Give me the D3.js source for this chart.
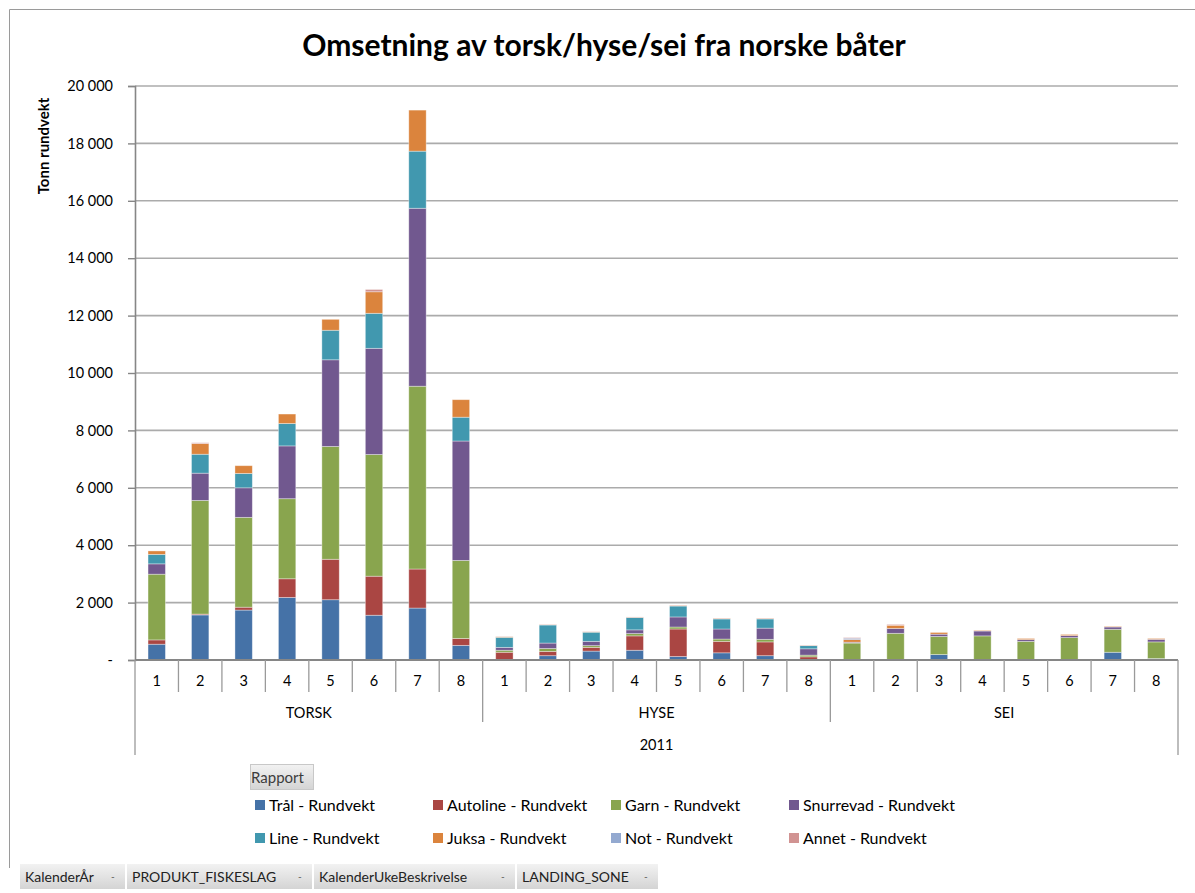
<!DOCTYPE html>
<html>
<head>
<meta charset="utf-8">
<script src="https://cdn.jsdelivr.net/npm/d3@7"></script>
<style>
  html, body { margin: 0; padding: 0; background: #fff; }
  svg { display: block; font-family: Lato, "Open Sans", sans-serif; }
</style>
</head>
<body>
<svg id="chart" width="1195" height="893"></svg>
<script>
// ---- data ----
const year = "2011";
const groups = ["TORSK", "HYSE", "SEI"];
const weeks = ["1", "2", "3", "4", "5", "6", "7", "8"];
const seriesNames = ["Trål - Rundvekt", "Autoline - Rundvekt", "Garn - Rundvekt", "Snurrevad - Rundvekt",
                     "Line - Rundvekt", "Juksa - Rundvekt", "Not - Rundvekt", "Annet - Rundvekt"];
const seriesColors = ["#4572A7", "#AA4643", "#89A54E", "#71588F", "#4198AF", "#DB843D", "#93A9D0", "#D19392"];
// values: TORSK 1-8, HYSE 1-8, SEI 1-8 (tonn)
const tral      = [550,1570,1740,2180,2100,1560,1810,510,   20,150,310,340,120,250,150,20,   0,0,190,0,0,0,270,50];
const autoline  = [150,30,100,650,1410,1360,1360,240,       250,150,130,500,960,400,480,90,  0,0,0,0,0,0,0,0];
const garn      = [2290,3960,3130,2790,3930,4240,6370,2720, 70,100,60,80,70,80,90,60,        590,930,630,840,650,780,800,580];
const snurrevad = [360,950,1030,1840,3020,3700,6200,4160,   100,190,150,130,350,350,390,220, 30,170,80,170,60,70,80,90];
const line      = [330,660,500,780,1030,1220,1990,830,      350,630,320,430,380,350,320,110, 0,0,0,0,0,0,0,0];
const juksa     = [120,370,270,330,380,750,1430,610,        20,10,10,10,20,20,20,10,         90,110,60,20,40,40,20,30];
const not       = [0,0,0,0,0,0,0,0,                         0,0,0,0,0,0,0,0,                 50,0,0,0,0,0,0,0];
const annet     = [0,30,0,0,0,80,0,0,                       10,10,10,10,10,10,10,10,         20,30,0,0,0,0,0,0];
const seriesValues = [tral, autoline, garn, snurrevad, line, juksa, not, annet];
const yTicks = [0, 2000, 4000, 6000, 8000, 10000, 12000, 14000, 16000, 18000, 20000];
const yTickLabels = ["-", "2 000", "4 000", "6 000", "8 000", "10 000", "12 000", "14 000", "16 000", "18 000", "20 000"];
const title = "Omsetning av torsk/hyse/sei fra norske båter";
const yTitle = "Tonn rundvekt";
const filterButtons = ["KalenderÅr", "PRODUKT_FISKESLAG", "KalenderUkeBeskrivelse", "LANDING_SONE"];
const reportButton = "Rapport";

// ---- layout ----
const svg = d3.select("#chart");
const L = 135, R = 1178, T = 86, B = 660;

const cats = [];
groups.forEach(g => weeks.forEach(w => cats.push(g + "|" + w)));
const rows = cats.map((c, i) => {
  const o = { key: c };
  seriesNames.forEach((s, j) => o[s] = seriesValues[j][i]);
  return o;
});

const x = d3.scaleBand().domain(cats).range([L, R]).paddingInner(0.6).paddingOuter(0.3);
const y = d3.scaleLinear().domain([0, 20000]).range([B, T]);
const color = d3.scaleOrdinal().domain(seriesNames).range(seriesColors);

// outer frame
svg.append("path").attr("d", `M9.5,868 V9.5 H1195`).attr("fill", "none").attr("stroke", "#9a9a9a").attr("stroke-width", 1);

// title
svg.append("text").attr("x", 604).attr("y", 56).attr("text-anchor", "middle")
  .attr("font-size", 30).attr("font-weight", "bold").attr("fill", "#000").text(title);

// gridlines
svg.append("g").selectAll("line").data(yTicks.filter(d => d > 0)).join("line")
  .attr("x1", L).attr("x2", R).attr("y1", d => y(d)).attr("y2", d => y(d))
  .attr("stroke", "#ababab").attr("stroke-width", 1.6);

// y axis
const yAxis = d3.axisLeft(y).tickValues(yTicks).tickSize(7).tickPadding(15)
  .tickFormat((d, i) => yTickLabels[i]);
const gy = svg.append("g").attr("transform", `translate(${L},0)`).call(yAxis);
gy.select(".domain").attr("stroke", "#868686").attr("stroke-width", 1.6);
gy.selectAll(".tick line").attr("stroke", "#868686").attr("stroke-width", 1.4);
gy.selectAll(".tick text").attr("font-size", 14.5).attr("fill", "#000").attr("font-family", "Lato, sans-serif");

svg.append("text").attr("transform", `translate(49,146) rotate(-90)`).attr("text-anchor", "middle")
  .attr("font-size", 15).attr("font-weight", "bold").text(yTitle);

// bars
const stack = d3.stack().keys(seriesNames);
const stacked = stack(rows);
svg.append("g").selectAll("g").data(stacked).join("g")
  .attr("fill", d => color(d.key))
  .selectAll("rect").data(d => d.filter(p => p[1] - p[0] > 0)).join("rect")
  .attr("x", d => x(d.data.key))
  .attr("width", x.bandwidth())
  .attr("y", d => y(d[1]))
  .attr("height", d => y(d[0]) - y(d[1]))
  .attr("stroke", "rgba(255,255,255,0.45)").attr("stroke-width", 0.8);

// x axis (multi-level)
const step = x.step();
const gx = svg.append("g");
gx.append("line").attr("x1", L).attr("x2", R).attr("y1", B).attr("y2", B)
  .attr("stroke", "#868686").attr("stroke-width", 2);
for (let i = 0; i <= cats.length; i++) {
  const xx = L + i * step;
  let y2 = 692;
  if (i % weeks.length === 0) y2 = 722;
  if (i === 0 || i === cats.length) y2 = 755;
  gx.append("line").attr("x1", xx).attr("x2", xx).attr("y1", B).attr("y2", y2)
    .attr("stroke", "#9a9a9a").attr("stroke-width", 1.3);
}
gx.selectAll("text.week").data(cats).join("text").attr("class", "week")
  .attr("x", d => x(d) + x.bandwidth() / 2).attr("y", 686)
  .attr("text-anchor", "middle").attr("font-size", 14.5).text(d => d.split("|")[1]);
gx.selectAll("text.grp").data(groups).join("text").attr("class", "grp")
  .attr("x", (d, i) => L + (i + 0.5) * weeks.length * step).attr("y", 718)
  .attr("text-anchor", "middle").attr("font-size", 14.5).text(d => d);
gx.append("text").attr("x", (L + R) / 2).attr("y", 750).attr("text-anchor", "middle")
  .attr("font-size", 14.5).text(year);

// defs for button gradients
const defs = svg.append("defs");
const grad = defs.append("linearGradient").attr("id", "btn").attr("x1", 0).attr("x2", 0).attr("y1", 0).attr("y2", 1);
grad.append("stop").attr("offset", "0%").attr("stop-color", "#f2f2f2");
grad.append("stop").attr("offset", "100%").attr("stop-color", "#d4d4d4");

// Rapport button
svg.append("rect").attr("x", 250.5).attr("y", 764.5).attr("width", 63).attr("height", 25)
  .attr("fill", "url(#btn)").attr("stroke", "#c8c8c8");
svg.append("text").attr("x", 251).attr("y", 783).attr("font-size", 15).attr("fill", "#3c3c3c").text(reportButton);

// legend
const lg = svg.append("g").selectAll("g").data(seriesNames).join("g")
  .attr("transform", (d, i) => `translate(${255 + (i % 4) * 178},${i < 4 ? 805 : 838})`);
lg.append("rect").attr("x", 0).attr("y", -5).attr("width", 10).attr("height", 10).attr("fill", d => color(d));
lg.append("text").attr("x", 14).attr("y", 5.5).attr("font-size", 16).attr("fill", "#000").text(d => d);

// filter buttons at bottom
const btnX = [20, 127, 314, 517];
const btnW = [105, 185, 201, 141];
const bg = svg.append("g").selectAll("g").data(filterButtons).join("g")
  .attr("transform", (d, i) => `translate(${btnX[i]},864)`);
bg.append("rect").attr("width", (d, i) => btnW[i]).attr("height", 25).attr("fill", "url(#btn)");
bg.append("text").attr("x", 5).attr("y", 18).attr("font-size", 14).attr("fill", "#222").text(d => d);
bg.append("text").attr("x", (d, i) => btnW[i] - 14).attr("y", 16).attr("font-size", 10).attr("fill", "#555").text("-");
</script>
</body>
</html>
